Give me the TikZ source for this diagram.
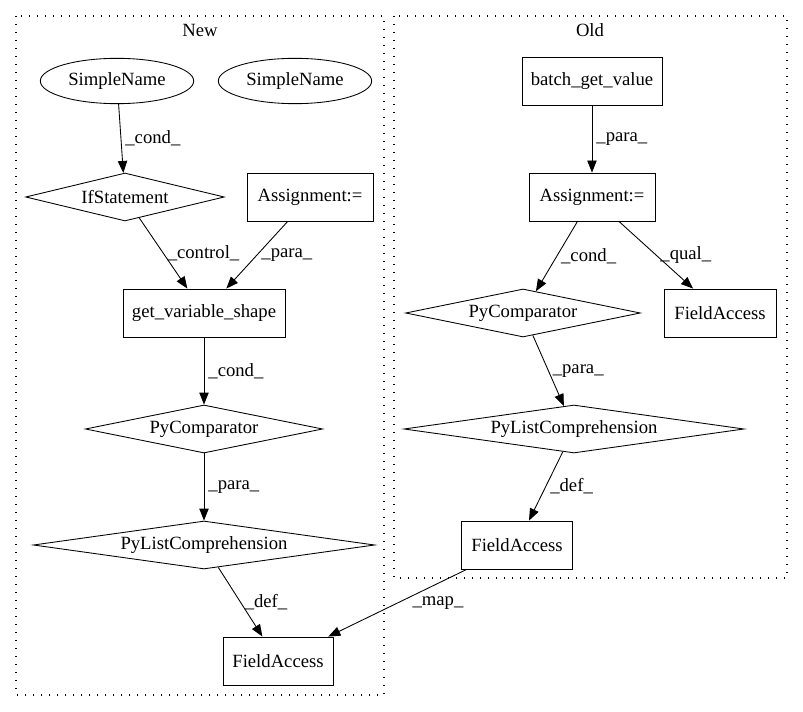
\documentclass[tikz,border=0pt]{standalone}
\usepackage{fontspec}
\setmainfont{Liberation Serif}
\usetikzlibrary{arrows.meta,shapes.geometric}
\tikzset{
	every node/.style={font=\fontsize{14}{16}\selectfont},
	box/.style={draw, rectangle, line width=0.65pt, minimum height=36pt, inner sep=0pt},
	oval/.style={draw, ellipse, line width=0.65pt, minimum width=115pt, minimum height=34pt, inner sep=0pt},
	rhomb/.style={draw, diamond, line width=0.65pt, shape aspect=6, minimum height=36pt, inner sep=0pt},
	link/.style={line width=0.65pt, -{Triangle[length=9pt,width=7pt]}},
	lbl/.style={anchor=west, inner sep=3pt},
	cluster/.style={line width=0.9pt, dash pattern=on 1pt off 5pt}
}

\begin{document}
\begin{tikzpicture}[x=0.75pt, y=-0.75pt]
			%%%%% START %%%%%
			\useasboundingbox (0,0) rectangle (803,712);
			
			\draw[cluster] (16,16) rectangle (384,695);
			\node (newlabel) at (200,30) {New};
			\draw[cluster] (394,16) rectangle (787,578);
			\node (oldlabel) at (590,30) {Old};
			
			\node[oval] (name1) at (117,81) {SimpleName};
			\node[oval] (name2) at (295,81) {SimpleName};
			\node[rhomb, minimum width=149pt] (ifstmt) at (125,197) {IfStatement};
			\node[box, minimum width=94.5pt] (assignnew) at (310,197) {Assignment:=};
			\node[box, minimum width=121.5pt] (getshape) at (204,313) {get\_variable\_shape};
			\node[rhomb, minimum width=178pt] (compnew) at (204,429) {PyComparator};
			\node[rhomb, minimum width=256pt] (listnew) at (204,545) {PyListComprehension};
			\node[box, minimum width=82.5pt] (fieldnew) at (278,661) {FieldAccess};
			
			\node[box, minimum width=105pt] (batch) at (592,81) {batch\_get\_value};
			\node[box, minimum width=94.5pt] (assignold) at (592,197) {Assignment:=};
			\node[rhomb, minimum width=176pt] (compold) at (523,313) {PyComparator};
			\node[box, minimum width=84pt] (qualold) at (720,313) {FieldAccess};
			\node[rhomb, minimum width=255pt] (listold) at (574,429) {PyListComprehension};
			\node[box, minimum width=83pt] (fieldold) at (517,545) {FieldAccess};
			
			\draw[link] (name1) -- node[lbl] {\_cond\_} (ifstmt);
			\draw[link] (ifstmt) -- node[lbl] {\_control\_} (getshape);
			\draw[link] (assignnew) -- node[lbl] {\_para\_} (getshape);
			\draw[link] (getshape) -- node[lbl] {\_cond\_} (compnew);
			\draw[link] (compnew) -- node[lbl] {\_para\_} (listnew);
			\draw[link] (listnew) -- node[lbl] {\_def\_} (fieldnew);
			
			\draw[link] (batch) -- node[lbl] {\_para\_} (assignold);
			\draw[link] (assignold) -- node[lbl] {\_cond\_} (compold);
			\draw[link] (assignold) -- node[lbl] {\_qual\_} (qualold);
			\draw[link] (compold) -- node[lbl] {\_para\_} (listold);
			\draw[link] (listold) -- node[lbl] {\_def\_} (fieldold);
			\draw[link] (fieldold) -- node[lbl, xshift=8pt] {\_map\_} (fieldnew);
			
			%%%%% END %%%%%
\end{tikzpicture}
\end{document}
